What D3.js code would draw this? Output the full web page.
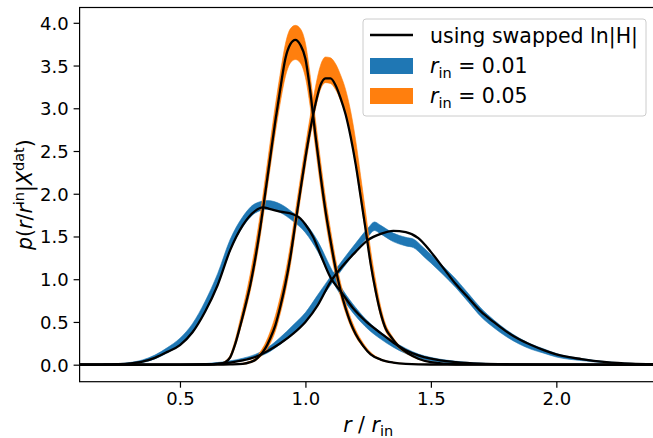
<!DOCTYPE html>
<html>
<head>
<meta charset="utf-8">
<script src="https://cdn.jsdelivr.net/npm/d3@7"></script>
<style>
  body { margin: 0; background: #fff; }
  text { font-family: "DejaVu Sans", sans-serif; }
</style>
</head>
<body>
<div id="chart"></div>
<script>
// ---- data ----
const xTicks = [0.5, 1.0, 1.5, 2.0];
const yTicks = [0.0, 0.5, 1.0, 1.5, 2.0, 2.5, 3.0, 3.5, 4.0];

// r_in = 0.01, first peak (band)
const b1X  = [0.10,0.20,0.25,0.30,0.35,0.40,0.45,0.50,0.55,0.60,0.65,0.70,0.75,0.80,0.85,0.90,0.95,1.00,1.05,1.10,1.15,1.20,1.25,1.30,1.35,1.40,1.45,1.50,1.60,1.70,1.80,2.00,2.40];
const b1Mid = [0,0.003,0.007,0.017,0.04,0.09,0.17,0.27,0.43,0.68,1.00,1.40,1.67,1.83,1.87,1.83,1.73,1.60,1.38,1.08,0.82,0.62,0.46,0.34,0.24,0.16,0.10,0.065,0.028,0.011,0.004,0.001,0];
const b1Half = [0.001,0.002,0.004,0.008,0.015,0.022,0.03,0.04,0.05,0.06,0.065,0.065,0.06,0.055,0.05,0.05,0.05,0.055,0.06,0.06,0.05,0.05,0.045,0.04,0.035,0.03,0.025,0.02,0.012,0.007,0.004,0.002,0];
// r_in = 0.01, second peak (band)
const b2X  = [0.10,0.50,0.60,0.70,0.75,0.80,0.85,0.90,0.95,1.00,1.05,1.10,1.15,1.20,1.25,1.275,1.30,1.35,1.40,1.43,1.47,1.50,1.55,1.60,1.65,1.70,1.75,1.80,1.85,1.90,1.95,2.00,2.10,2.20,2.30,2.40];
const b2Mid = [0,0.001,0.008,0.035,0.06,0.10,0.17,0.28,0.41,0.56,0.77,0.98,1.18,1.37,1.55,1.62,1.58,1.49,1.44,1.42,1.32,1.24,1.10,0.95,0.78,0.61,0.48,0.37,0.28,0.21,0.16,0.11,0.06,0.028,0.011,0.004];
const b2Half = [0,0.001,0.005,0.01,0.015,0.02,0.03,0.04,0.05,0.05,0.05,0.05,0.05,0.05,0.05,0.05,0.05,0.05,0.05,0.05,0.05,0.05,0.05,0.05,0.05,0.05,0.045,0.04,0.035,0.03,0.025,0.02,0.012,0.007,0.004,0.002];
// r_in = 0.05, first peak (band)
const o1X  = [0.10,0.60,0.63,0.66,0.68,0.70,0.72,0.74,0.76,0.78,0.80,0.82,0.84,0.86,0.88,0.90,0.92,0.94,0.96,0.98,1.00,1.02,1.04,1.06,1.08,1.10,1.12,1.14,1.16,1.18,1.20,1.23,1.26,1.30,1.35,1.40,1.50,2.40];
const o1Mid = [0,0.001,0.004,0.013,0.033,0.09,0.25,0.47,0.70,0.96,1.27,1.63,2.04,2.46,2.87,3.24,3.56,3.73,3.77,3.73,3.56,3.18,2.70,2.24,1.82,1.46,1.14,0.88,0.67,0.50,0.37,0.23,0.13,0.06,0.025,0.01,0.002,0];
const o1Half = [0,0.001,0.002,0.004,0.008,0.02,0.04,0.06,0.08,0.10,0.12,0.13,0.14,0.15,0.16,0.17,0.19,0.20,0.20,0.20,0.20,0.18,0.16,0.15,0.13,0.12,0.10,0.08,0.06,0.05,0.04,0.025,0.015,0.008,0.004,0.002,0.001,0];
// r_in = 0.05, second peak (band)
const o2X  = [0.10,0.65,0.70,0.75,0.78,0.80,0.82,0.84,0.86,0.88,0.90,0.92,0.94,0.96,0.98,1.00,1.02,1.04,1.06,1.08,1.10,1.12,1.14,1.16,1.18,1.20,1.22,1.24,1.26,1.28,1.30,1.32,1.34,1.37,1.41,1.45,1.50,1.60,2.40];
const o2Mid = [0,0,0.003,0.011,0.032,0.06,0.12,0.20,0.32,0.48,0.70,0.96,1.28,1.67,2.06,2.44,2.80,3.12,3.36,3.45,3.44,3.37,3.24,3.07,2.82,2.48,2.07,1.66,1.24,0.90,0.62,0.43,0.33,0.22,0.13,0.07,0.03,0.005,0];
const o2Half = [0,0,0.002,0.006,0.01,0.015,0.03,0.05,0.07,0.09,0.10,0.11,0.12,0.12,0.12,0.12,0.12,0.13,0.14,0.15,0.15,0.15,0.15,0.15,0.15,0.15,0.14,0.12,0.10,0.08,0.06,0.04,0.03,0.02,0.012,0.007,0.003,0.001,0];

// black curves "using swapped ln|H|"
const s1X = [0.10,0.20,0.25,0.30,0.35,0.40,0.45,0.50,0.55,0.60,0.65,0.70,0.75,0.80,0.83,0.86,0.90,0.95,0.98,1.00,1.03,1.06,1.10,1.14,1.19,1.24,1.30,1.35,1.40,1.45,1.50,1.60,1.70,1.80,2.00,2.40];
const s1Y = [0,0.002,0.006,0.015,0.035,0.08,0.15,0.23,0.38,0.62,0.93,1.34,1.63,1.80,1.84,1.82,1.79,1.76,1.71,1.64,1.50,1.29,1.02,0.86,0.66,0.51,0.37,0.26,0.17,0.11,0.07,0.03,0.012,0.005,0.001,0];
const s2X = [0.10,0.50,0.60,0.70,0.75,0.80,0.85,0.90,0.95,1.00,1.05,1.10,1.15,1.20,1.25,1.30,1.35,1.40,1.45,1.50,1.55,1.60,1.65,1.70,1.75,1.80,1.85,1.90,1.95,2.00,2.10,2.20,2.30,2.40];
const s2Y = [0,0.001,0.005,0.025,0.05,0.09,0.16,0.25,0.36,0.50,0.70,0.97,1.16,1.32,1.46,1.53,1.565,1.55,1.48,1.32,1.13,0.94,0.78,0.62,0.50,0.39,0.30,0.23,0.17,0.12,0.065,0.03,0.012,0.005];
const s3X = o1X;
const s3Y = [0,0.001,0.004,0.012,0.03,0.085,0.24,0.45,0.68,0.93,1.24,1.60,2.01,2.43,2.85,3.23,3.58,3.75,3.80,3.74,3.58,3.18,2.68,2.22,1.80,1.45,1.13,0.87,0.66,0.49,0.36,0.22,0.12,0.06,0.025,0.01,0.002,0];
const s4X = o2X;
const s4Y = [0,0,0.003,0.01,0.03,0.055,0.11,0.19,0.31,0.46,0.68,0.94,1.26,1.65,2.04,2.42,2.76,3.05,3.27,3.35,3.35,3.27,3.12,2.93,2.67,2.35,1.97,1.58,1.18,0.86,0.60,0.42,0.33,0.22,0.13,0.07,0.03,0.005,0];

const legendLabels = ["using swapped ln|H|", "0.01", "0.05"];

// ---- layout ----
const width = 653, height = 438;
const mLeft = 79.6, mRight = 656.7, mTop = 7.5, mBottom = 381.7;
const blue = "#1f77b4", orange = "#ff7f0e";

const svg = d3.select("#chart").append("svg")
    .attr("width", width)
    .attr("height", height);

const x = d3.scaleLinear().domain([0.1, 2.4]).range([mLeft, mRight]);
const y = d3.scaleLinear().domain([-0.199, 4.179]).range([mBottom, mTop]);

svg.append("clipPath").attr("id", "plot-clip")
    .append("rect")
    .attr("x", mLeft).attr("y", mTop)
    .attr("width", mRight - mLeft).attr("height", mBottom - mTop);

const plot = svg.append("g").attr("clip-path", "url(#plot-clip)");

function bandRows(xs, mid, half) {
    return xs.map((v, i) => ({x: v, lo: mid[i] - half[i], hi: mid[i] + half[i]}));
}
function lineRows(xs, ys) {
    return xs.map((v, i) => ({x: v, y: ys[i]}));
}

const area = d3.area()
    .x(d => x(d.x))
    .y0(d => y(d.lo))
    .y1(d => y(d.hi))
    .curve(d3.curveMonotoneX);

const line = d3.line()
    .x(d => x(d.x))
    .y(d => y(d.y))
    .curve(d3.curveMonotoneX);

// bands
const bands = [
    {rows: bandRows(b1X, b1Mid, b1Half), color: blue},
    {rows: bandRows(b2X, b2Mid, b2Half), color: blue},
    {rows: bandRows(o1X, o1Mid, o1Half), color: orange},
    {rows: bandRows(o2X, o2Mid, o2Half), color: orange}
];
plot.selectAll("path.band")
    .data(bands)
    .join("path")
    .attr("class", "band")
    .attr("d", d => area(d.rows))
    .attr("fill", d => d.color)
    .attr("stroke", d => d.color)
    .attr("stroke-width", 0.6);

// swapped ln|H| curves
const curves = [lineRows(s1X, s1Y), lineRows(s2X, s2Y), lineRows(s3X, s3Y), lineRows(s4X, s4Y)];
plot.selectAll("path.curve")
    .data(curves)
    .join("path")
    .attr("class", "curve")
    .attr("d", line)
    .attr("fill", "none")
    .attr("stroke", "#000")
    .attr("stroke-width", 2.3)
    .attr("stroke-linejoin", "round");

// axes
const xAxis = svg.append("g")
    .attr("transform", `translate(0,${mBottom})`)
    .call(d3.axisBottom(x).tickValues(xTicks).tickFormat(d3.format(".1f"))
        .tickSize(6).tickPadding(5).tickSizeOuter(0));
const yAxis = svg.append("g")
    .attr("transform", `translate(${mLeft},0)`)
    .call(d3.axisLeft(y).tickValues(yTicks).tickFormat(d3.format(".1f"))
        .tickSize(6).tickPadding(5).tickSizeOuter(0));

[xAxis, yAxis].forEach(g => {
    g.select(".domain").remove();
    g.selectAll(".tick line").attr("stroke", "#000").attr("stroke-width", 1.2);
    g.selectAll(".tick text")
        .attr("fill", "#000")
        .style("font-size", "18px")
        .style("font-family", "DejaVu Sans");
});
yAxis.selectAll(".tick text").attr("dy", "0.36em");

// frame
svg.append("rect")
    .attr("x", mLeft).attr("y", mTop)
    .attr("width", mRight - mLeft).attr("height", mBottom - mTop)
    .attr("fill", "none")
    .attr("stroke", "#000")
    .attr("stroke-width", 1.2);

// axis labels
const xl = svg.append("text")
    .attr("x", (mLeft + mRight) / 2)
    .attr("y", 432)
    .attr("text-anchor", "middle")
    .style("font-size", "20.5px");
xl.append("tspan").style("font-style", "italic").text("r");
xl.append("tspan").text(" / ");
xl.append("tspan").style("font-style", "italic").text("r");
xl.append("tspan").attr("dy", 4).style("font-size", "14.5px").text("in");

const yl = svg.append("text")
    .attr("transform", `translate(32,${(mTop + mBottom) / 2}) rotate(-90)`)
    .attr("text-anchor", "middle")
    .style("font-size", "20.5px");
yl.append("tspan").style("font-style", "italic").text("p");
yl.append("tspan").text("(");
yl.append("tspan").style("font-style", "italic").text("r");
yl.append("tspan").text("/");
yl.append("tspan").style("font-style", "italic").text("r");
yl.append("tspan").attr("dy", -8).style("font-size", "14.5px").text("in");
yl.append("tspan").attr("dy", 8).text("|");
yl.append("tspan").style("font-style", "italic").text("X");
yl.append("tspan").attr("dy", -8).style("font-size", "14.5px").text("dat");
yl.append("tspan").attr("dy", 8).text(")");

// legend
const legend = svg.append("g");
legend.append("rect")
    .attr("x", 363).attr("y", 19)
    .attr("width", 283).attr("height", 97)
    .attr("rx", 3)
    .attr("fill", "#fff").attr("fill-opacity", 0.8)
    .attr("stroke", "#cccccc").attr("stroke-width", 1);

legend.append("line")
    .attr("x1", 370).attr("x2", 413).attr("y1", 35).attr("y2", 35)
    .attr("stroke", "#000").attr("stroke-width", 2.3);
legend.append("text")
    .attr("x", 430).attr("y", 43)
    .style("font-size", "20.5px")
    .text(legendLabels[0]);

[[blue, legendLabels[1], 58], [orange, legendLabels[2], 88]].forEach(([c, lab, yy]) => {
    legend.append("rect")
        .attr("x", 370).attr("y", yy)
        .attr("width", 43).attr("height", 16)
        .attr("fill", c);
    const t = legend.append("text")
        .attr("x", 430).attr("y", yy + 15)
        .style("font-size", "20.5px");
    t.append("tspan").style("font-style", "italic").text("r");
    t.append("tspan").attr("dy", 5).style("font-size", "14.5px").text("in");
    t.append("tspan").attr("dy", -5).text(" = " + lab);
});
</script>
</body>
</html>
